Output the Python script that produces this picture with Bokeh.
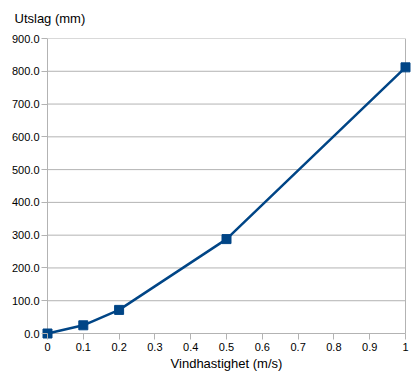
from bokeh.plotting import figure
from bokeh.models import Range1d, FixedTicker, PrintfTickFormatter, Title
from bokeh.embed import file_html
from bokeh.resources import INLINE

speed = [0, 0.1, 0.2, 0.5, 1.0]
deflection = [0, 25, 72, 288, 812]
x_ticks = [0, 0.1, 0.2, 0.3, 0.4, 0.5, 0.6, 0.7, 0.8, 0.9, 1.0]
x_tick_labels = ["0", "0.1", "0.2", "0.3", "0.4", "0.5", "0.6", "0.7", "0.8", "0.9", "1"]
y_ticks = [0, 100, 200, 300, 400, 500, 600, 700, 800, 900]
y_title = "Utslag (mm)"
x_title = "Vindhastighet (m/s)"

FONT = "Liberation Sans"
GRID = "#b3b3b3"
BLUE = "#004586"

# small padding so that the end markers are not clipped by the frame
x_pad = 6 / 358
y_pad = 6 * 900 / 295

p = figure(width=420, height=377, output_backend="svg", toolbar_location=None,
           x_range=Range1d(x_ticks[0] - x_pad, x_ticks[-1] + x_pad),
           y_range=Range1d(y_ticks[0] - y_pad, y_ticks[-1]),
           min_border_left=41, min_border_right=9, min_border_top=38, min_border_bottom=38)

p.xgrid.grid_line_color = None
p.ygrid.grid_line_color = None
p.outline_line_color = None
p.background_fill_color = None

# horizontal grid lines, right border and axis lines spanning exactly the data extent
p.segment(x0=[x_ticks[0]] * len(y_ticks), x1=[x_ticks[-1]] * len(y_ticks),
          y0=y_ticks, y1=y_ticks, line_color=GRID, line_width=1)
p.segment(x0=[x_ticks[0], x_ticks[-1]], x1=[x_ticks[0], x_ticks[-1]],
          y0=[y_ticks[0], y_ticks[0]], y1=[y_ticks[-1], y_ticks[-1]],
          line_color=GRID, line_width=1)

p.xaxis.ticker = FixedTicker(ticks=x_ticks)
p.xaxis.major_label_overrides = {t: l for t, l in zip(x_ticks, x_tick_labels)}
p.yaxis.ticker = FixedTicker(ticks=y_ticks)
p.yaxis.formatter = PrintfTickFormatter(format="%.1f")
p.xaxis.axis_label = x_title

for ax in (p.xaxis, p.yaxis):
    ax.axis_line_color = None
    ax.major_tick_line_color = GRID
    ax.minor_tick_line_color = None
    ax.major_tick_in = 6
    ax.major_tick_out = 0
    ax.major_label_text_font = FONT
    ax.major_label_text_font_size = "11px"
    ax.major_label_text_color = "#000000"
    ax.axis_label_text_font = FONT
    ax.axis_label_text_font_size = "13px"
    ax.axis_label_text_font_style = "normal"
    ax.axis_label_text_color = "#000000"
p.xaxis.major_label_standoff = 3
p.xaxis.axis_label_standoff = 2
p.yaxis.major_label_standoff = 2

# spacer title (closest to the frame) then the real y-axis title above it
spacer = Title(text="\u00a0", text_font=FONT, text_font_size="6px", align="left", standoff=0)
p.add_layout(spacer, "above")
title = Title(text=y_title, text_font=FONT, text_font_size="13px", text_font_style="normal",
              text_color="#000000", align="left", offset=-27)
p.add_layout(title, "above")

p.line(speed, deflection, line_color=BLUE, line_width=2.5)
p.scatter(speed, deflection, marker="square", size=9, fill_color=BLUE, line_color=BLUE)

open("out.html", "w").write(file_html(p, INLINE))
